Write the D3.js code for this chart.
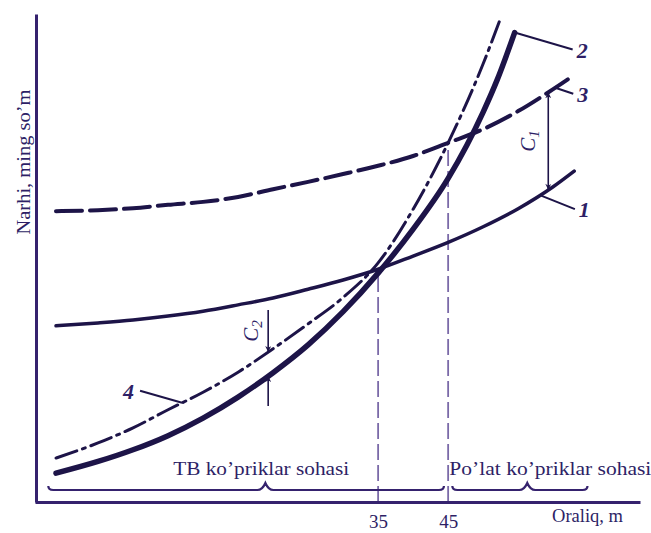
<!DOCTYPE html>
<html lang="uz">
<head>
<meta charset="UTF-8">
<title>Narhi va oraliq</title>
<script src="https://cdn.jsdelivr.net/npm/d3@7"></script>
<style>
  body { margin: 0; background: #fff; }
  text { font-family: "Liberation Serif", "DejaVu Serif", serif; fill: #2e1f66; }
</style>
</head>
<body>
<svg id="chart" width="651" height="533"></svg>
<script>
// oraliq, m (x) va narxi (shartli birlik) (y), rasmdan o'qilgan
var spans = [-11, -5, 0, 5, 10, 15, 20, 25, 30, 35, 40, 45, 50, 55, 60, 63];
var cost1 = [36.1, 36.7, 37.3, 38.1, 39.1, 40.4, 41.8, 43.6, 45.5, 47.7, 50.4, 53.2, 56.4, 60.1, 64.6, 67.8];
var cost3 = [59.6, 59.8, 60.2, 60.9, 61.5, 62.5, 64.1, 65.6, 67.2, 68.9, 70.9, 73.6, 76.4, 80.1, 84.6, 87.5];
var spans4 = [-11, -5, 0, 5, 10, 15, 20, 25, 30, 35, 40, 45, 50, 52.3];
var cost4 = [9.0, 12.1, 15.2, 18.9, 22.5, 26.6, 31.4, 36.5, 41.9, 49.0, 60.0, 73.6, 89.8, 98.4];
var spans2 = [-11, -5, 0, 5, 10, 15, 20, 25, 30, 35, 40, 45, 50, 52, 54.5];
var cost2 = [5.9, 8.3, 10.7, 13.6, 17.2, 21.5, 26.5, 32.2, 39.0, 46.9, 55.9, 66.3, 79.9, 86.5, 96.2];

var tickValues = [35, 45];
var tickLabels = ["35", "45"];
var tickMeets = ["1", "3"]; // qaysi egri chiziqgacha vertikal chiziq

var regionNames = ["TB ko’priklar sohasi", "Po’lat ko’priklar sohasi"];
var regionFrom = [-12.1, 45.6];
var regionTo = [44.4, 64.9];
var regionPeak = [18.9, 56.3];
var regionTextAt = [18.3, 59.6];

var xTitle = "Oraliq, m";
var yTitle = "Narhi, ming so’m";

var svg = d3.select("#chart");
var width = +svg.attr("width");
var height = +svg.attr("height");
var margin = { top: 14, right: 11, bottom: 31, left: 35 };
var ink = "#1d1448";
var axisInk = "#35226e";

var x = d3.scaleLinear().domain([-14, 72.4]).range([margin.left, width - margin.right]);
var y = d3.scaleLinear().domain([0, 100]).range([height - margin.bottom, margin.top]);

var series = [
    { id: "1", xs: spans, ys: cost1, w: 3.5, dash: null },
    { id: "3", xs: spans, ys: cost3, w: 4, dash: "26,8" },
    { id: "4", xs: spans4, ys: cost4, w: 3, dash: "22,6,3,6" },
    { id: "2", xs: spans2, ys: cost2, w: 5.5, dash: null }
];
var byId = {};
series.forEach(function (s) { byId[s.id] = s; });

function valueAt(s, v) {
    var i = d3.bisectLeft(s.xs, v);
    if (i <= 0) return s.ys[0];
    if (i >= s.xs.length) return s.ys[s.ys.length - 1];
    var t = (v - s.xs[i - 1]) / (s.xs[i] - s.xs[i - 1]);
    return s.ys[i - 1] + t * (s.ys[i] - s.ys[i - 1]);
}

var defs = svg.append("defs");
defs.append("marker")
    .attr("id", "arrow")
    .attr("viewBox", "0 0 10 10")
    .attr("refX", 10).attr("refY", 5)
    .attr("markerWidth", 10).attr("markerHeight", 6)
    .attr("markerUnits", "userSpaceOnUse")
    .attr("orient", "auto-start-reverse")
    .append("path")
    .attr("d", "M0,0 L10,5 L0,10 L3,5 Z")
    .attr("fill", ink);

// vertikal shtrix chiziqlar (35 va 45)
tickValues.forEach(function (t, i) {
    svg.append("line")
        .attr("x1", x(t)).attr("x2", x(t))
        .attr("y1", y(0)).attr("y2", y(valueAt(byId[tickMeets[i]], t)))
        .attr("stroke", "#7b6aa8")
        .attr("stroke-width", 1.8)
        .attr("stroke-dasharray", "16,5");
});

// egri chiziqlar
var line = d3.line()
    .x(function (d) { return x(d[0]); })
    .y(function (d) { return y(d[1]); })
    .curve(d3.curveMonotoneX);

series.forEach(function (s) {
    svg.append("path")
        .datum(d3.zip(s.xs, s.ys))
        .attr("d", line)
        .attr("fill", "none")
        .attr("stroke", ink)
        .attr("stroke-width", s.w)
        .attr("stroke-linecap", "round")
        .attr("stroke-dasharray", s.dash);
});

// o'qlar
var xAxis = d3.axisBottom(x).tickValues(tickValues)
    .tickFormat(function (d, i) { return tickLabels[i]; })
    .tickSize(0).tickPadding(13);
var gx = svg.append("g")
    .attr("transform", "translate(0," + y(0) + ")")
    .call(xAxis);
gx.select(".domain").attr("stroke", axisInk).attr("stroke-width", 3);
gx.selectAll("text")
    .attr("font-family", "Liberation Serif, serif")
    .attr("font-size", 19)
    .attr("fill", "#2e1f66");

var gy = svg.append("g")
    .attr("transform", "translate(" + (margin.left + 1) + ",0)")
    .call(d3.axisLeft(y).tickValues([]).tickSizeOuter(0));
gy.select(".domain").attr("stroke", axisInk).attr("stroke-width", 3);

svg.append("text")
    .attr("x", width - margin.right - 17)
    .attr("y", y(0) + 20)
    .attr("text-anchor", "end")
    .attr("font-size", 19)
    .attr("textLength", 71)
    .attr("lengthAdjust", "spacingAndGlyphs")
    .text(xTitle);

svg.append("text")
    .attr("transform", "translate(30,162) rotate(-90)")
    .attr("text-anchor", "middle")
    .attr("font-size", 18)
    .attr("textLength", 145)
    .attr("lengthAdjust", "spacingAndGlyphs")
    .text(yTitle);

// sohalar (figurali qavslar)
var braceY = y(0) - 12;
function bracePath(x0, x1, xm, by) {
    var p = d3.path();
    p.moveTo(x0, by - 4);
    p.quadraticCurveTo(x0, by, x0 + 5, by);
    p.lineTo(xm - 8, by);
    p.quadraticCurveTo(xm - 3, by, xm, by - 7);
    p.quadraticCurveTo(xm + 3, by, xm + 8, by);
    p.lineTo(x1 - 5, by);
    p.quadraticCurveTo(x1, by, x1, by - 4);
    return p.toString();
}
var textLens = [176, 202];
regionNames.forEach(function (name, i) {
    svg.append("path")
        .attr("d", bracePath(x(regionFrom[i]), x(regionTo[i]), x(regionPeak[i]), braceY))
        .attr("fill", "none")
        .attr("stroke", axisInk)
        .attr("stroke-width", 2.2);
    svg.append("text")
        .attr("x", x(regionTextAt[i]))
        .attr("y", braceY - 15)
        .attr("text-anchor", "middle")
        .attr("font-size", 18)
        .attr("textLength", textLens[i])
        .attr("lengthAdjust", "spacingAndGlyphs")
        .text(name);
});

// chiziq raqamlari
var tags = [
    { id: "2", at: 54.5, dx: 58, dy: 17 },
    { id: "3", at: 60.3, dx: 18, dy: 6 },
    { id: "1", at: 58.1, dx: 35, dy: 14 },
    { id: "4", at: 7, dx: -42, dy: -12 }
];
tags.forEach(function (t) {
    var px = x(t.at), py = y(valueAt(byId[t.id], t.at));
    svg.append("line")
        .attr("x1", px).attr("y1", py)
        .attr("x2", px + t.dx).attr("y2", py + t.dy)
        .attr("stroke", ink).attr("stroke-width", 2);
    svg.append("text")
        .attr("x", px + t.dx + (t.dx > 0 ? 4 : -6))
        .attr("y", py + t.dy + 8)
        .attr("text-anchor", t.dx > 0 ? "start" : "end")
        .attr("font-size", 22)
        .attr("font-weight", "bold")
        .attr("font-style", "italic")
        .attr("fill", ink)
        .text(t.id);
});

// C1: 3 va 1 orasidagi farq
var c1At = 59.3;
var c1Top = y(valueAt(byId["3"], c1At)), c1Bot = y(valueAt(byId["1"], c1At));
svg.append("line")
    .attr("x1", x(c1At)).attr("x2", x(c1At))
    .attr("y1", c1Top).attr("y2", c1Bot)
    .attr("stroke", ink).attr("stroke-width", 1.6)
    .attr("marker-start", "url(#arrow)")
    .attr("marker-end", "url(#arrow)");

// C2: 4 va 2 orasidagi farq
var c2At = 19.3;
var c2Up = y(valueAt(byId["4"], c2At)), c2Lo = y(valueAt(byId["2"], c2At));
svg.append("line")
    .attr("x1", x(c2At)).attr("x2", x(c2At))
    .attr("y1", c2Up - 42).attr("y2", c2Up)
    .attr("stroke", ink).attr("stroke-width", 1.6)
    .attr("marker-end", "url(#arrow)");
svg.append("line")
    .attr("x1", x(c2At)).attr("x2", x(c2At))
    .attr("y1", c2Lo + 30).attr("y2", c2Lo)
    .attr("stroke", ink).attr("stroke-width", 1.6)
    .attr("marker-end", "url(#arrow)");

function cLabel(px, py, sub) {
    var t = svg.append("text")
        .attr("transform", "translate(" + px + "," + py + ") rotate(-90)")
        .attr("text-anchor", "middle")
        .attr("font-size", 21)
        .attr("font-style", "italic")
        .attr("fill", ink);
    t.append("tspan").text("C");
    t.append("tspan").attr("font-size", 15).attr("dy", 4).text(sub);
}
cLabel(x(c1At) - 13, (c1Top + c1Bot) / 2, "1");
cLabel(x(c2At) - 10, c2Up - 21, "2");
</script>
</body>
</html>
